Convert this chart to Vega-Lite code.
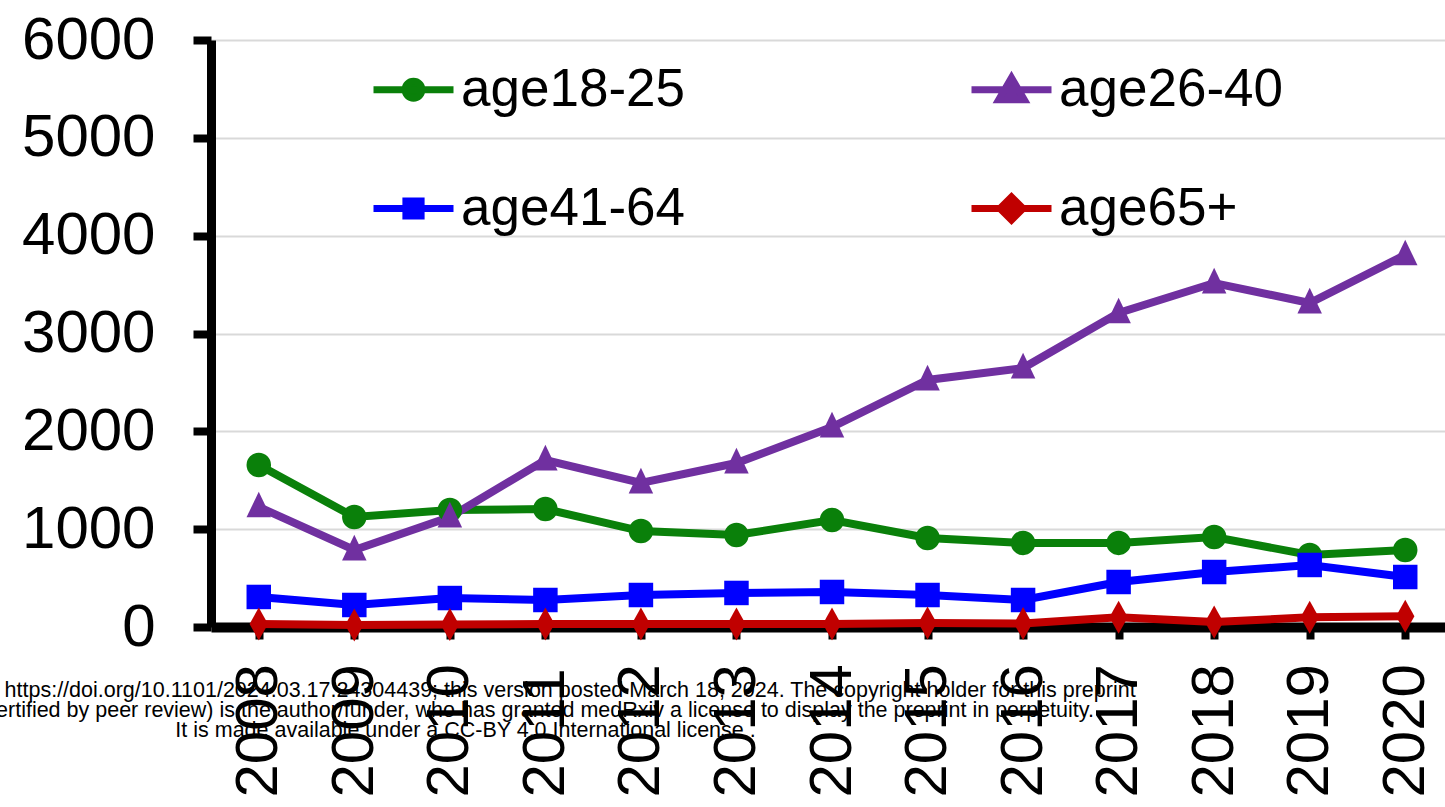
{
  "$schema": "https://vega.github.io/schema/vega-lite/v6.json",
  "autosize": "none",
  "padding": {"left": 211, "top": 40, "right": 0, "bottom": 180},
  "width": 1242,
  "height": 587,
  "background": "white",
  "title": {
    "text": [
      "medRxiv preprint doi: https://doi.org/10.1101/2024.03.17.24304439; this version posted March 18, 2024. The copyright holder for this preprint",
      "(which was not certified by peer review) is the author/funder, who has granted medRxiv a license to display the preprint in perpetuity.",
      "It is made available under a CC-BY 4.0 International license ."
    ],
    "orient": "bottom",
    "anchor": "start",
    "align": "center",
    "dx": 444,
    "offset": -117,
    "fontSize": 21.5,
    "font": "Liberation Sans",
    "fontWeight": "normal",
    "color": "black",
    "lineHeight": 20
  },
  "data": {
    "values": [
      {"year": "2008", "group": "age18-25", "value": 1656},
      {"year": "2009", "group": "age18-25", "value": 1124},
      {"year": "2010", "group": "age18-25", "value": 1196},
      {"year": "2011", "group": "age18-25", "value": 1206},
      {"year": "2012", "group": "age18-25", "value": 981},
      {"year": "2013", "group": "age18-25", "value": 940},
      {"year": "2014", "group": "age18-25", "value": 1094},
      {"year": "2015", "group": "age18-25", "value": 910},
      {"year": "2016", "group": "age18-25", "value": 859},
      {"year": "2017", "group": "age18-25", "value": 859},
      {"year": "2018", "group": "age18-25", "value": 920},
      {"year": "2019", "group": "age18-25", "value": 736},
      {"year": "2020", "group": "age18-25", "value": 787},
      {"year": "2008", "group": "age26-40", "value": 1227},
      {"year": "2009", "group": "age26-40", "value": 787},
      {"year": "2010", "group": "age26-40", "value": 1124},
      {"year": "2011", "group": "age26-40", "value": 1707},
      {"year": "2012", "group": "age26-40", "value": 1472},
      {"year": "2013", "group": "age26-40", "value": 1676},
      {"year": "2014", "group": "age26-40", "value": 2044},
      {"year": "2015", "group": "age26-40", "value": 2525},
      {"year": "2016", "group": "age26-40", "value": 2647},
      {"year": "2017", "group": "age26-40", "value": 3210},
      {"year": "2018", "group": "age26-40", "value": 3516},
      {"year": "2019", "group": "age26-40", "value": 3312},
      {"year": "2020", "group": "age26-40", "value": 3803},
      {"year": "2008", "group": "age41-64", "value": 307},
      {"year": "2009", "group": "age41-64", "value": 225},
      {"year": "2010", "group": "age41-64", "value": 296},
      {"year": "2011", "group": "age41-64", "value": 276},
      {"year": "2012", "group": "age41-64", "value": 327},
      {"year": "2013", "group": "age41-64", "value": 348},
      {"year": "2014", "group": "age41-64", "value": 358},
      {"year": "2015", "group": "age41-64", "value": 327},
      {"year": "2016", "group": "age41-64", "value": 276},
      {"year": "2017", "group": "age41-64", "value": 460},
      {"year": "2018", "group": "age41-64", "value": 562},
      {"year": "2019", "group": "age41-64", "value": 634},
      {"year": "2020", "group": "age41-64", "value": 511},
      {"year": "2008", "group": "age65+", "value": 30},
      {"year": "2009", "group": "age65+", "value": 20},
      {"year": "2010", "group": "age65+", "value": 25},
      {"year": "2011", "group": "age65+", "value": 30},
      {"year": "2012", "group": "age65+", "value": 30},
      {"year": "2013", "group": "age65+", "value": 30},
      {"year": "2014", "group": "age65+", "value": 30},
      {"year": "2015", "group": "age65+", "value": 40},
      {"year": "2016", "group": "age65+", "value": 35},
      {"year": "2017", "group": "age65+", "value": 100},
      {"year": "2018", "group": "age65+", "value": 50},
      {"year": "2019", "group": "age65+", "value": 100},
      {"year": "2020", "group": "age65+", "value": 110}
    ]
  },
  "encoding": {
    "x": {
      "field": "year", "type": "ordinal",
      "scale": {"type": "point", "padding": 0.5},
      "axis": {
        "title": null, "labelAngle": -90, "labelAlign": "left", "labelFontSize": 60, "labelFont": "Liberation Sans",
        "labelColor": "black", "domainColor": "black", "domainWidth": 10,
        "tickColor": "black", "tickWidth": 8, "tickSize": 12, "labelPadding": 158, "grid": false
      }
    },
    "y": {
      "field": "value", "type": "quantitative",
      "scale": {"domain": [0, 6000], "nice": false},
      "axis": {
        "title": null, "values": [0, 1000, 2000, 3000, 4000, 5000, 6000], "format": "d",
        "labelFontSize": 60, "labelFont": "Liberation Sans", "labelColor": "black",
        "domainColor": "black", "domainWidth": 9, "tickColor": "black", "tickWidth": 8,
        "tickSize": 18, "labelPadding": 38, "grid": true, "gridColor": "#d9d9d9", "gridWidth": 2
      }
    },
    "color": {
      "field": "group", "type": "nominal",
      "scale": {"domain": ["age18-25", "age26-40", "age41-64", "age65+"], "range": ["#0a800a", "#7030a0", "#0000ff", "#c00000"]},
      "legend": {
        "title": null, "orient": "none", "legendX": 159, "legendY": 6, "columns": 2,
        "values": ["age18-25", "age41-64", "age26-40", "age65+"],
        "columnPadding": 272, "rowPadding": 48, "labelFontSize": 53, "labelFont": "Liberation Sans",
        "labelColor": "black", "labelOffset": 4, "labelLimit": 500, "symbolSize": 6400, "symbolStrokeWidth": 7, "padding": 0,
        "encode": {
          "symbols": {
            "update": {
              "shape": {"signal": "datum.value === 'age18-25' ? 'M-1,0H1M-0.21,0A0.21,0.21 0 1,0 0.21,0A0.21,0.21 0 1,0 -0.21,0Z' : datum.value === 'age26-40' ? 'M-1,0H1M0,-0.3L0.32,0.25L-0.32,0.25Z' : datum.value === 'age41-64' ? 'M-1,0H1M-0.19,-0.19H0.19V0.19H-0.19Z' : 'M-1,0H1M0,-0.29L0.29,0L0,0.29L-0.29,0Z'"},
              "fill": {"signal": "scale('color', datum.value)"},
              "stroke": {"signal": "scale('color', datum.value)"},
              "strokeWidth": {"value": 7},
              "opacity": {"value": 1}
            }
          }
        }
      }
    }
  },
  "layer": [
    {"mark": {"type": "line", "strokeWidth": 8}},
    {
      "mark": {"type": "point", "filled": true, "size": 600, "opacity": 1},
      "encoding": {
        "shape": {
          "condition": [
            {"test": "datum.group === 'age26-40'", "value": "M0,-1.25L1,0.85L-1,0.85Z"},
            {"test": "datum.group === 'age41-64'", "value": "square"},
            {"test": "datum.group === 'age65+'", "value": "M0,-1.35L0.75,0L0,1.35L-0.75,0Z"}
          ],
          "value": "circle"
        }
      }
    }
  ],
  "config": {
    "view": {"stroke": null},
    "font": "Liberation Sans"
  }
}
